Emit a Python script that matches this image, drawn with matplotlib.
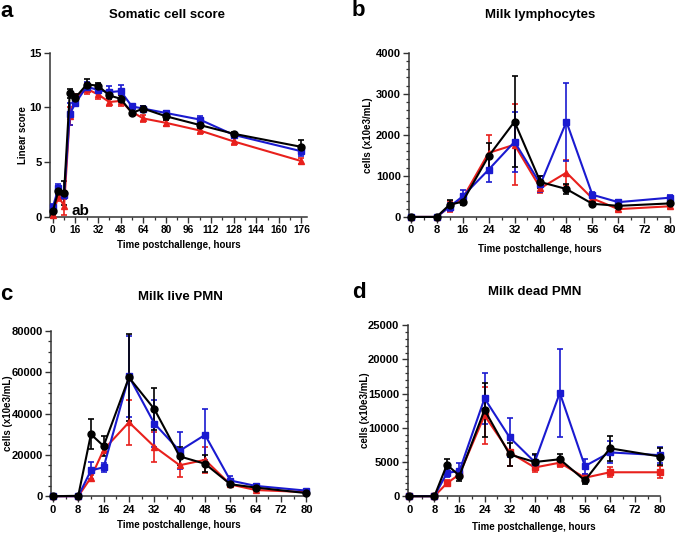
import numpy as np
import matplotlib
matplotlib.use("Agg")
import matplotlib.pyplot as plt
from matplotlib.ticker import MultipleLocator, AutoMinorLocator

plt.rcParams['font.family'] = ['Liberation Sans', 'DejaVu Sans']
plt.rcParams['font.weight'] = 'bold'

RED = '#e8201c'
BLUE = '#1a1ad0'
BLACK = '#000000'

# ---- panel a: somatic cell score
t_a = [0, 4, 8, 12, 16, 24, 32, 40, 48, 56, 64, 80, 104, 128, 176]
scs_black = [0.5, 2.4, 2.2, 11.3, 10.9, 12.1, 12.0, 11.1, 10.8, 9.5, 9.9, 9.2, 8.4, 7.6, 6.4]
scs_black_err = [0.3, 0.4, 1.1, 0.4, 0.3, 0.5, 0.2, 0.3, 0.3, 0.2, 0.2, 0.3, 0.3, 0.2, 0.6]
scs_blue = [0.9, 2.6, 2.0, 9.4, 10.4, 11.9, 11.6, 11.4, 11.5, 10.1, 9.9, 9.5, 8.9, 7.5, 6.0]
scs_blue_err = [0.3, 0.4, 0.4, 1.0, 0.3, 0.4, 0.3, 0.6, 0.6, 0.2, 0.2, 0.2, 0.3, 0.2, 0.4]
scs_red = [0.2, 1.9, 1.0, 9.2, 10.9, 11.7, 11.2, 10.5, 10.6, 9.6, 9.0, 8.6, 7.9, 6.9, 5.1]
scs_red_err = [0.3, 0.4, 0.8, 0.8, 0.3, 0.5, 0.4, 0.4, 0.5, 0.3, 0.3, 0.3, 0.3, 0.3, 0.3]

# ---- panels b-d share the same time points
t_b = [0, 8, 12, 16, 24, 32, 40, 48, 56, 64, 80]

lym_black = [0, 0, 300, 370, 1480, 2320, 850, 680, 320, 270, 330]
lym_black_err = [0, 0, 110, 90, 330, 1110, 150, 120, 40, 40, 50]
lym_blue = [0, 0, 250, 500, 1150, 1830, 800, 2320, 540, 360, 470]
lym_blue_err = [0, 0, 100, 150, 300, 730, 200, 950, 60, 50, 60]
lym_red = [0, 0, 250, 450, 1560, 1760, 700, 1080, 450, 190, 260]
lym_red_err = [0, 0, 140, 100, 440, 990, 120, 300, 50, 40, 50]

live_black = [0, 200, 30000, 24300, 57500, 42200, 19300, 15700, 5800, 4200, 1500]
live_black_err = [0, 200, 7300, 5000, 21000, 10000, 4300, 4200, 600, 600, 400]
live_blue = [0, 0, 12500, 14000, 58000, 35200, 22000, 29700, 7600, 5000, 2700]
live_blue_err = [0, 0, 4000, 2200, 19500, 11500, 9000, 12300, 2400, 700, 500]
live_red = [0, 0, 9000, 22500, 35800, 24000, 15000, 17600, 5700, 3000, 2000]
live_red_err = [0, 0, 1500, 1500, 11000, 7300, 5500, 6200, 600, 700, 400]

dead_black = [0, 0, 4600, 3000, 12600, 6100, 5000, 5400, 2300, 7000, 5800]
dead_black_err = [0, 0, 900, 800, 3900, 1700, 1100, 800, 500, 1800, 1300]
dead_blue = [0, 0, 3400, 3700, 14300, 8600, 5000, 15100, 4400, 6400, 6000]
dead_blue_err = [0, 0, 600, 1100, 3700, 2900, 1000, 6400, 1100, 1600, 1200]
dead_red = [0, 0, 1900, 3200, 11800, 6400, 4200, 4900, 2700, 3500, 3500]
dead_red_err = [0, 0, 400, 500, 4200, 2000, 700, 700, 500, 700, 900]

W, H = 675, 533
fig = plt.figure(figsize=(W / 100, H / 100), dpi=100)

axa = fig.add_axes([0.074, 0.593, 0.381, 0.308])
axb = fig.add_axes([0.606, 0.593, 0.387, 0.308])
axc = fig.add_axes([0.076, 0.069, 0.378, 0.310])
axd = fig.add_axes([0.604, 0.069, 0.374, 0.321])


def series(ax, t, y, e, color, marker):
    ax.errorbar(t, y, yerr=e, color=color, marker=marker, markersize=5,
                linewidth=1.5, elinewidth=1.2, capsize=2.5, capthick=1.2,
                clip_on=False, zorder=3)


def style(ax, xmax, xmaj, xmin_, ymax, ymaj, yminor, xlo, ylab, ylx, xly):
    ax.set_xlim(xlo, xmax)
    ax.set_ylim(0, ymax)
    ax.xaxis.set_major_locator(MultipleLocator(xmaj))
    ax.xaxis.set_minor_locator(MultipleLocator(xmin_))
    ax.yaxis.set_major_locator(MultipleLocator(ymaj))
    if yminor:
        ax.yaxis.set_minor_locator(AutoMinorLocator(yminor))
    for s in ['top', 'right']:
        ax.spines[s].set_visible(False)
    for s in ['left', 'bottom']:
        ax.spines[s].set_linewidth(1.1)
        ax.spines[s].set_color('#333333')
    ax.tick_params(which='major', length=4, width=1.0, labelsize=8, color='#333333', pad=2)
    ax.tick_params(which='minor', length=2.5, width=0.9, color='#333333')
    for lab in ax.get_xticklabels() + ax.get_yticklabels():
        lab.set_fontweight('bold')
    ax.set_xlabel('Time postchallenge, hours', fontsize=7, fontweight='bold', va='center')
    ax.set_ylabel(ylab, fontsize=7, fontweight='bold', va='center')
    # place axis labels at the reference pixel positions
    bb = ax.get_position()
    ax.xaxis.set_label_coords(bb.x0 + bb.width / 2, 1 - xly / H, transform=fig.transFigure)
    ax.yaxis.set_label_coords(ylx / W, bb.y0 + bb.height / 2, transform=fig.transFigure)


# a
series(axa, t_a, scs_red, scs_red_err, RED, '^')
series(axa, t_a, scs_blue, scs_blue_err, BLUE, 's')
series(axa, t_a, scs_black, scs_black_err, BLACK, 'o')
style(axa, 180, 16, 8, 15, 5, 0, -2, 'Linear score', 22.5, 245)
axa.set_xticks(range(0, 177, 16))
axa.tick_params(axis='x', labelsize=7.3)
axa.text(13.5, 0.15, 'ab', fontsize=11, fontweight='bold')

# b
series(axb, t_b, lym_red, lym_red_err, RED, '^')
series(axb, t_b, lym_blue, lym_blue_err, BLUE, 's')
series(axb, t_b, lym_black, lym_black_err, BLACK, 'o')
style(axb, 80, 8, 4, 4000, 1000, 5, -0.5, 'cells (x10e3/mL)', 368, 249)

# c
series(axc, t_b, live_red, live_red_err, RED, '^')
series(axc, t_b, live_blue, live_blue_err, BLUE, 's')
series(axc, t_b, live_black, live_black_err, BLACK, 'o')
style(axc, 80, 8, 4, 80000, 20000, 4, -0.5, 'cells (x10e3/mL)', 8, 525)

# d
series(axd, t_b, dead_red, dead_red_err, RED, 's')
series(axd, t_b, dead_blue, dead_blue_err, BLUE, 's')
series(axd, t_b, dead_black, dead_black_err, BLACK, 'o')
style(axd, 80, 8, 4, 25000, 5000, 5, -0.5, 'cells (x10e3/mL)', 365, 527)

# titles and panel letters
fig.text(167 / W, 1 - 15 / H, 'Somatic cell score', ha='center', va='center', fontsize=9.5, fontweight='bold')
fig.text(540 / W, 1 - 15 / H, 'Milk lymphocytes', ha='center', va='center', fontsize=9.5, fontweight='bold')
fig.text(180 / W, 1 - 297 / H, 'Milk live PMN', ha='center', va='center', fontsize=9.5, fontweight='bold')
fig.text(535 / W, 1 - 292 / H, 'Milk dead PMN', ha='center', va='center', fontsize=9.5, fontweight='bold')
for x, y, s in [(0, 1, 'a'), (352, 0, 'b'), (0, 284, 'c'), (352, 282, 'd')]:
    fig.text(x / W, 1 - y / H, s, ha='left', va='top', fontsize=16, fontweight='bold')

fig.savefig('out.png', dpi=100)
